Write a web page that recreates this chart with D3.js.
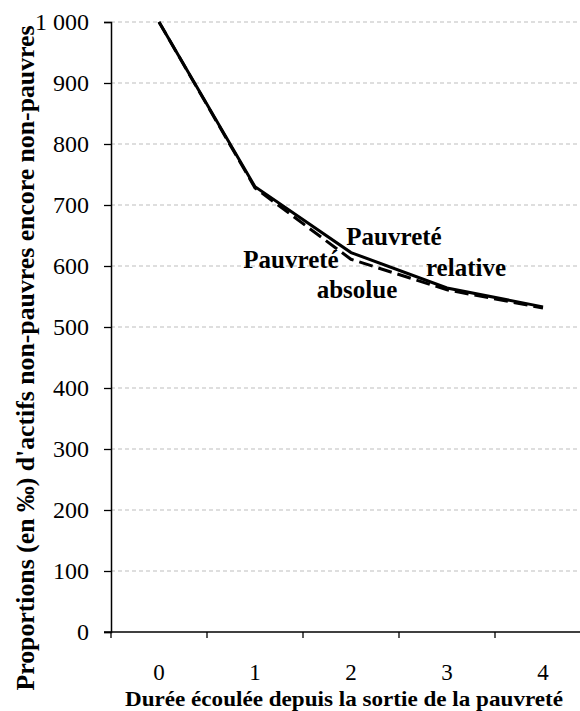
<!DOCTYPE html>
<html><head><meta charset="utf-8">
<script src="https://cdn.jsdelivr.net/npm/d3@7"></script>
</head><body style="margin:0">
<svg id="c" width="580" height="711"></svg>
<script>
const categories = ["0","1","2","3","4"];
const relative = [1000, 730, 622, 564, 533];
const absolue  = [1000, 728, 611, 561, 531];
const yTicks = [0,100,200,300,400,500,600,700,800,900,1000];

const svg = d3.select("#c");
const mLeft = 111, mBottom = 632, mTop = 22, mRight = 591;
const x = d3.scaleBand().domain(categories).range([mLeft, mRight]);
const y = d3.scaleLinear().domain([0,1000]).range([mBottom, mTop]);
const serif = "\"Times New Roman\"";

svg.append("g").selectAll("line").data(yTicks.filter(d=>d>0)).join("line")
  .attr("x1", mLeft).attr("x2", 580).attr("y1", d=>y(d)).attr("y2", d=>y(d))
  .attr("stroke", "#bdbdbd").attr("stroke-width", 1).attr("stroke-dasharray", "4,3");

const yAxis = d3.axisLeft(y).tickValues(yTicks).tickSize(7).tickPadding(15)
  .tickFormat(d => d === 1000 ? "1\u00a0000" : d);
const gy = svg.append("g").attr("transform", `translate(${mLeft},0)`).call(yAxis);
gy.attr("font-family", null).attr("font-size", null);
gy.select(".domain").attr("stroke", "#000").attr("stroke-width", 1.5);
gy.selectAll(".tick line").attr("stroke", "#000").attr("stroke-width", 1.3);
gy.selectAll("text").style("font-family", serif).style("font-size", "24px").attr("fill", "#000");

const gx = svg.append("g").attr("transform", `translate(0,${mBottom})`);
gx.append("line").attr("x1", mLeft - 7).attr("x2", 580).attr("y1", 0).attr("y2", 0)
  .attr("stroke", "#000").attr("stroke-width", 1.5);
gx.selectAll("line.tk").data(categories).join("line").attr("class","tk")
  .attr("x1", d=>x(d)).attr("x2", d=>x(d)).attr("y1", 0).attr("y2", 6)
  .attr("stroke", "#000").attr("stroke-width", 1.3);
gx.selectAll("text").data(categories).join("text")
  .attr("x", d=>x(d)+x.bandwidth()/2).attr("y", 48)
  .attr("text-anchor", "middle").style("font-family", serif).style("font-size", "23px")
  .text(d=>d);

const line = d3.line().x((d,i)=>x(categories[i])+x.bandwidth()/2).y(d=>y(d));
svg.append("path").datum(absolue).attr("d", line).attr("fill","none")
  .attr("stroke","#000").attr("stroke-width",3).attr("stroke-dasharray","14,6");
svg.append("path").datum(relative).attr("d", line).attr("fill","none")
  .attr("stroke","#000").attr("stroke-width",3);

const ann = [
  {t:"Pauvreté", x:394, y:245},
  {t:"relative", x:466, y:276},
  {t:"Pauvreté", x:291, y:268},
  {t:"absolue", x:357, y:298}
];
svg.selectAll("text.ann").data(ann).join("text").attr("class","ann")
  .attr("x", d=>d.x).attr("y", d=>d.y).attr("text-anchor","middle")
  .style("font-family", serif).style("font-weight","bold").style("font-size","25px")
  .text(d=>d.t);

svg.append("text").attr("transform","translate(34,358) rotate(-90)")
  .attr("text-anchor","middle").style("font-family", serif).style("font-weight","bold")
  .style("font-size","25px").attr("textLength", 665).attr("lengthAdjust","spacingAndGlyphs")
  .text("Proportions (en \u2030) d'actifs non-pauvres encore non-pauvres");
svg.append("text").attr("x",344).attr("y",706)
  .attr("text-anchor","middle").style("font-family", serif).style("font-weight","bold")
  .style("font-size","22px").attr("textLength", 438).attr("lengthAdjust","spacingAndGlyphs")
  .text("Durée écoulée  depuis la sortie de la pauvreté");
</script>
</body></html>
